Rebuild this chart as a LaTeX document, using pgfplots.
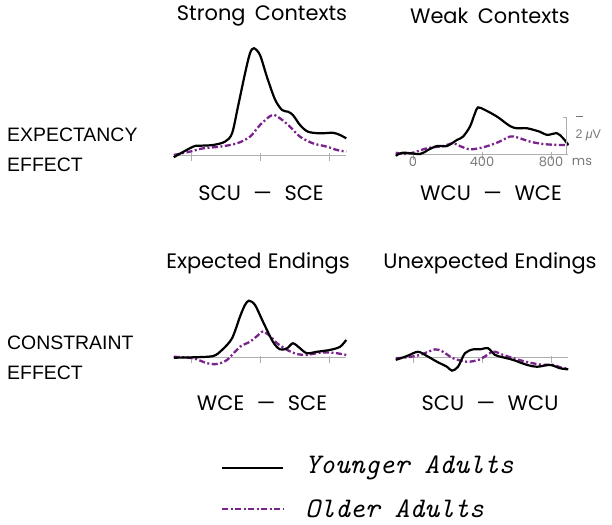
\documentclass[border=0pt]{standalone}
\usepackage{fontspec}
\usepackage{pgfplots}
\pgfplotsset{compat=1.18}
\setmainfont{Liberation Sans}
\newfontfamily\titlefont{Poppins}
\definecolor{oldc}{RGB}{122,35,140}
\definecolor{basec}{RGB}{175,175,175}
\definecolor{labc}{RGB}{120,120,120}
\pgfplotsset{
  erp/.style={scale only axis, width=172.5bp, xmin=-100, xmax=900, ymin=-1,
    axis lines=none, clip=false, anchor=south west},
  young/.style={black, line width=2.2bp, smooth, no markers},
  old/.style={oldc, line width=2.3bp, smooth, no markers,
    dash pattern=on 6bp off 2.5bp on 2bp off 2.5bp},
}
\newcommand{\baseticks}{%
  \draw[basec, line width=0.8bp] (axis cs:-100,0) -- (axis cs:900,0);
  \draw[basec, line width=0.8bp] (axis cs:0,-0.3) -- (axis cs:0,0.1);
  \draw[basec, line width=0.8bp] (axis cs:400,-0.3) -- (axis cs:400,0.1);
  \draw[basec, line width=0.8bp] (axis cs:800,-0.3) -- (axis cs:800,0.1);
}
\begin{document}
\begin{tikzpicture}[x=1bp,y=1bp]
\path[use as bounding box] (0,0) rectangle (612,525);

% Panel 1: Strong Contexts
\begin{axis}[erp, at={(173.75bp,351.5bp)}, ymax=6.2, height=133.2bp]
\baseticks
\addplot[old] coordinates {(-100,0) (-6,0.18) (70,0.36) (168,0.45) (267,0.63) (342,0.99) (400,1.62) (470,2.16) (516,1.98) (574,1.53) (632,0.99) (707,0.63) (788,0.45) (846,0.27) (900,0.18)};
\addplot[young] coordinates {(-100,-0.12) (12,0.45) (52,0.5) (128,0.54) (197,0.72) (238,1.17) (272,2.6) (313,4.4) (342,5.5) (365,5.77) (400,5.4) (441,4.2) (487,3.0) (528,2.43) (562,2.34) (591,2.16) (632,1.62) (678,1.26) (748,1.17) (823,1.2) (864,1.08) (900,0.9)};
\end{axis}

% Panel 2: Weak Contexts
\begin{axis}[erp, at={(395.75bp,352.5bp)}, ymax=6.2, height=133.2bp]
\baseticks
\addplot[old] coordinates {(-100,0.07) (-58,0) (0,0.07) (81,0.31) (174,0.43) (232,0.58) (272,0.43) (330,0.25) (406,0.36) (487,0.61) (562,0.94) (603,0.9) (678,0.67) (754,0.54) (835,0.49) (900,0.49)};
\addplot[young] coordinates {(-100,-0.1) (-58,0.07) (41,0) (87,0.22) (139,0.43) (197,0.43) (255,0.76) (290,0.94) (330,1.48) (359,2.2) (377,2.52) (417,2.38) (487,2.02) (562,1.51) (603,1.39) (661,1.39) (736,1.2) (777,1.03) (835,1.12) (870,0.85) (900,0.49)};
\end{axis}

% Panel 3: Expected Endings
\begin{axis}[erp, at={(173.75bp,148.8bp)}, ymax=3.5, height=83.25bp]
\baseticks
\addplot[old] coordinates {(-100,0.05) (12,-0.03) (93,-0.3) (151,-0.34) (209,-0.12) (284,0.59) (342,0.86) (383,1.17) (417,1.41) (458,1.17) (499,0.78) (557,0.42) (614,0.2) (672,0.15) (748,0.27) (823,0.27) (900,0.15)};
\addplot[young] coordinates {(-100,0) (12,0.02) (128,0.09) (180,0.42) (238,1.05) (284,2.22) (313,2.85) (336,3.08) (371,2.85) (417,1.95) (475,0.86) (516,0.45) (557,0.51) (591,0.78) (632,0.51) (672,0.24) (730,0.32) (806,0.42) (864,0.59) (900,0.96)};
\end{axis}

% Panel 4: Unexpected Endings
\begin{axis}[erp, at={(395.75bp,148.8bp)}, ymax=3.5, height=83.25bp]
\baseticks
\addplot[old] coordinates {(-100,-0.03) (-35,0.02) (41,0.15) (128,0.45) (174,0.32) (232,-0.03) (313,-0.22) (388,-0.09) (464,0.32) (522,0.15) (603,-0.09) (678,-0.27) (754,-0.39) (812,-0.39) (870,-0.57) (900,-0.57)};
\addplot[young] coordinates {(-100,-0.12) (-35,0.09) (29,0.32) (81,0.09) (139,-0.22) (197,-0.49) (226,-0.7) (261,-0.49) (301,0.24) (348,0.45) (388,0.45) (435,0.51) (475,0.15) (522,0.02) (580,-0.12) (661,-0.39) (719,-0.49) (794,-0.39) (852,-0.57) (900,-0.63)};
\end{axis}

% scale bar and time labels (panel 2)
\draw[basec, line width=0.8bp] (566,408) -- (566,371);
\draw[basec, line width=0.8bp] (563,408) -- (566,408);
\draw[labc, line width=0.9bp] (576,409) -- (583,409);
\node[labc, anchor=west, font=\fontsize{12.5}{12.5}\selectfont] at (572,390) {2 \textit{μ}V};
\node[labc, font=\titlefont\fontsize{13}{13}\selectfont] at (413,363) {0};
\node[labc, font=\titlefont\fontsize{13}{13}\selectfont] at (482,363) {400};
\node[labc, font=\titlefont\fontsize{13}{13}\selectfont] at (551,363) {800};
\node[labc, font=\titlefont\fontsize{13}{13}\selectfont] at (582,363) {ms};

% titles
\begin{scope}[every node/.style={font=\titlefont\fontsize{21}{21}\selectfont, inner sep=0pt}]
\node at (262,509) {Strong\hspace{0.45em}Contexts};
\node at (490,509) {Weak\hspace{0.45em}Contexts};
\node at (261,332) {SCU\hspace{0.6em}—\hspace{0.6em}SCE};
\node at (491,332) {WCU\hspace{0.6em}—\hspace{0.6em}WCE};
\node at (258,262) {Expected\hspace{0.3em}Endings};
\node at (490,262) {Unexpected\hspace{0.3em}Endings};
\node at (262,122) {WCE\hspace{0.6em}—\hspace{0.6em}SCE};
\node at (490,122) {SCU\hspace{0.6em}—\hspace{0.6em}WCU};
\end{scope}

% row labels
\begin{scope}[every node/.style={font=\fontsize{19.5}{19.5}\selectfont, inner sep=0pt, anchor=west}]
\node at (7,390) {EXPECTANCY};
\node at (7,360) {EFFECT};
\node at (7,182) {CONSTRAINT};
\node at (7,152) {EFFECT};
\end{scope}

% legend
\draw[black, line width=2.2bp] (222,57) -- (283,57);
\draw[oldc, line width=2.3bp, dash pattern=on 6bp off 2.5bp on 2bp off 2.5bp] (222,16) -- (283,16);
\node[anchor=west, inner sep=0pt, font=\ttfamily\itshape\fontsize{28.5}{28.5}\selectfont] at (305,57) {Younger Adults};
\node[anchor=west, inner sep=0pt, font=\ttfamily\itshape\fontsize{28.5}{28.5}\selectfont] at (305,16) {Older Adults};
\end{tikzpicture}
\end{document}
